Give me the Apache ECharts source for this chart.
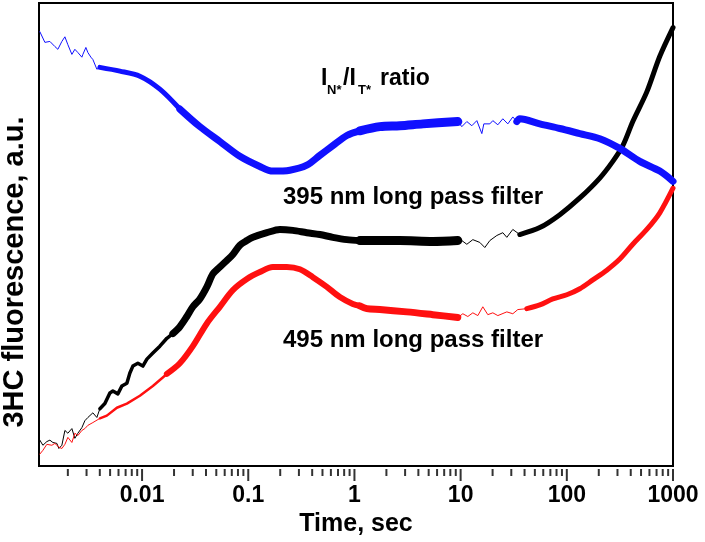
<!DOCTYPE html>
<html>
<head>
<meta charset="utf-8">
<script src="https://cdn.jsdelivr.net/npm/echarts@6/dist/echarts.min.js"></script>
<style>
html,body{margin:0;padding:0;background:#fff;}
#chart{width:705px;height:542px;}
</style>
</head>
<body>
<div id="chart"></div>
<script>
// ---- tick labels / tick positions ----
const xTickValues = [0.01, 0.1, 1, 10, 100, 1000];
const xMin = 0.00107, xMax = 1000;
const minorTickValues = [];
[0.001, 0.01, 0.1, 1, 10, 100].forEach(function (d) {
  for (let m = 2; m <= 9; m++) minorTickValues.push(parseFloat((m * d).toPrecision(3)));
});

// ---- annotation texts ----
const labelBlack = '395 nm long pass filter';
const labelRed = '495 nm long pass filter';
const xName = 'Time, sec';
const yName = '3HC fluorescence, a.u.';

// ---- blue: I_N*/I_T* ratio ----
const blueA = [[0.00109,93.8],[0.001216,91.5],[0.001355,91.7],[0.00151,90.6],[0.001611,90.0],[0.001757,91.7],[0.001876,92.7],[0.002001,91.0],[0.002183,88.9],[0.002329,90.0],[0.002486,89.3],[0.002711,88.3],[0.002771,88.9],[0.002957,90.4],[0.003088,89.3],[0.003296,88.3],[0.003441,87.8],[0.003753,85.7],[0.004006,86.1]];
const blueB = [[0.004006,86.1],[0.00618,85.3],[0.009535,84.2],[0.01471,81.4],[0.02269,77.1]];
const blueC = [[0.02269,77.1],[0.03502,73.3],[0.05402,70.1],[0.08336,66.9],[0.1286,64.7],[0.1704,63.7],[0.2465,63.9],[0.3563,65.0],[0.4724,67.1],[0.626,69.2],[0.8481,71.4],[1.124,72.4]];
const blueD = [[1.124,72.4],[1.735,73.3],[2.677,73.5],[4.407,73.9],[9.41,74.4]];
const blueE = [[9.41,74.4],[10.26,73.3],[11.44,74.4],[12.75,73.5],[14.21,74.6],[15.84,71.8],[16.54,73.9],[18.84,73.9],[20.10,74.6],[22.41,73.7],[24.97,75.0],[27.83,73.9],[31.01,75.4],[33.82,74.4]];
const blueF = [[33.82,74.4],[36.09,75.0],[55.69,73.9],[85.96,72.9],[132.6,71.8],[204.5,70.7],[315.6,68.6],[486.8,65.8],[751.1,63.7],[1000,61.5]];

// ---- black: 395 nm long pass filter ----
const blackA = [[0.00109,5.6],[0.001164,4.5],[0.001269,5.3],[0.001355,5.6],[0.001446,5.1],[0.001577,4.9],[0.001646,3.8],[0.001757,4.5],[0.001876,7.7],[0.002001,7.1],[0.002183,8.1],[0.002329,6.0],[0.002486,7.1],[0.002711,8.3],[0.002893,9.8],[0.003088,10.5],[0.003441,11.5],[0.003753,10.5],[0.004006,12.4]];
const blackB = [[0.004006,12.4],[0.004464,13.5],[0.004976,15.8],[0.005309,16.2],[0.005917,15.6],[0.006454,17.3],[0.007193,17.9],[0.007677,20.1],[0.008193,21.6],[0.00913,22.2],[0.01017,21.6],[0.0111,23.1],[0.01264,24.4],[0.01471,25.9],[0.01712,27.6],[0.0195,28.6]];
const blackC = [[0.0195,28.6],[0.02269,30.1],[0.02642,32.3],[0.03008,34.4],[0.03502,36.1],[0.04075,38.7],[0.04642,41.5],[0.05402,43.0],[0.06288,44.4],[0.07161,45.7],[0.08336,47.7],[0.097,48.7],[0.1105,49.4],[0.1497,50.4],[0.1984,51.1],[0.263,50.9],[0.3563,50.4],[0.4724,50.0],[0.626,49.4],[0.8481,48.9],[1.124,48.7]];
const blackD = [[1.124,48.7],[2.677,48.7],[5.473,48.5],[9.41,48.7]];
const blackE = [[9.41,48.7],[10.26,48.7],[11.44,47.9],[13.03,48.9],[15.16,48.3],[16.90,47.2],[18.84,48.7],[21.93,49.8],[24.97,50.4],[27.23,49.4],[31.01,51.1],[36.09,50.0]];
const blackF = [[36.09,50.0],[55.69,51.5],[85.96,54.3],[132.6,57.9],[204.5,62.2],[271.1,65.8],[336.9,69.2],[418.2,74.4],[566.6,80.8],[751.1,88.5],[1000,94.7]];

// ---- red: 495 nm long pass filter ----
const redA = [[0.00109,2.6],[0.001164,3.4],[0.001269,4.7],[0.001415,4.5],[0.00151,4.9],[0.001646,4.1],[0.001757,3.8],[0.001876,4.7],[0.002001,6.2],[0.002183,5.1],[0.002329,7.1],[0.002486,6.6],[0.002711,7.7],[0.002893,8.1],[0.003088,8.8],[0.003441,9.4],[0.004006,10.3]];
const redB = [[0.004006,10.3],[0.004661,10.9],[0.00579,12.6],[0.007193,13.5],[0.009535,15.2],[0.01264,17.3],[0.01712,19.9]];
const redC = [[0.01712,19.9],[0.02269,22.2],[0.03008,25.9],[0.04075,30.8],[0.05402,34.4],[0.07161,38.0],[0.097,40.4],[0.1286,41.9],[0.1704,43.0],[0.231,43.0],[0.3062,42.5],[0.4058,40.8],[0.5497,38.7],[0.7287,36.5],[0.9658,35.0],[1.124,34.6]];
const redD = [[1.124,34.6],[1.309,34.0],[1.735,33.8],[3.115,33.3],[5.473,32.7],[9.41,32.1]];
const redE = [[9.41,32.1],[10.49,32.9],[11.69,32.3],[13.03,33.1],[14.52,32.5],[16.18,34.4],[18.04,32.7],[20.10,33.1],[22.41,32.5],[27.23,33.3],[31.01,32.9],[34.56,33.8],[42.02,34.0]];
const redF = [[42.02,34.0],[55.69,34.8],[73.83,36.1],[100,37.0],[132.6,38.3],[175.7,40.2],[238.0,42.3],[315.6,44.7],[418.2,47.9],[566.6,51.1],[751.1,54.7],[1000,60.0]];

const BLUE = '#1010ff', BLACK = '#000000', RED = '#ff1010';
const FONT = '"Liberation Sans", Arial, sans-serif';

function seg(data, color, width, smooth) {
  return {
    type: 'line', data: data, showSymbol: false, symbol: 'none',
    smooth: smooth ? 0.3 : false, silent: true,
    lineStyle: { color: color, width: width, cap: 'round', join: 'round' }
  };
}

// tick marks: small rects in a thin strip grid under the plot, sharing the same log x scale
function tickMarks(values, len) {
  return {
    type: 'scatter', xAxisIndex: 1, yAxisIndex: 1, silent: true, clip: false,
    data: values.map(function (v) { return [v, len / 2]; }),
    symbol: 'rect', symbolSize: [2, len],
    itemStyle: { color: '#000' }
  };
}

const series = [
  seg(blackA, BLACK, 1, false), seg(blackB, BLACK, 3.5, false), seg(blackC, BLACK, 7, true),
  seg(blackD, BLACK, 9, true), seg(blackE, BLACK, 1, false), seg(blackF, BLACK, 5, true),
  seg(redA, RED, 1, false), seg(redB, RED, 2.5, false), seg(redC, RED, 6, true),
  seg(redD, RED, 7, true), seg(redE, RED, 1, false), seg(redF, RED, 5, true),
  seg(blueA, BLUE, 1, false), seg(blueB, BLUE, 5, true), seg(blueC, BLUE, 7, true),
  seg(blueD, BLUE, 9, true), seg(blueE, BLUE, 1, false), seg(blueF, BLUE, 7, true),
  tickMarks(xTickValues, 12), tickMarks(minorTickValues, 7)
];

const chart = echarts.init(document.getElementById('chart'), null, { renderer: 'canvas' });
chart.setOption({
  animation: false,
  backgroundColor: '#ffffff',
  grid: [
    { left: 39, right: 32, top: 3, bottom: 71, show: true, borderColor: '#000', borderWidth: 2, backgroundColor: 'transparent' },
    { left: 39, right: 32, top: 469, height: 12, show: false }
  ],
  xAxis: [{
    type: 'log', min: xMin, max: xMax, logBase: 10, gridIndex: 0,
    position: 'bottom',
    name: xName, nameLocation: 'middle', nameGap: 40,
    nameTextStyle: { fontFamily: FONT, fontWeight: 'bold', fontSize: 25, color: '#000' },
    axisLine: { show: true, lineStyle: { color: '#000', width: 2 } },
    axisTick: { show: false }, minorTick: { show: false },
    axisLabel: { show: true, margin: 18, fontFamily: FONT, fontWeight: 'bold', fontSize: 23, color: '#000',
      customValues: xTickValues, formatter: function (v) { return String(v); } },
    splitLine: { show: false }
  }, {
    type: 'log', min: xMin, max: xMax, logBase: 10, gridIndex: 1,
    show: false, axisLine: { show: false }, axisTick: { show: false }, axisLabel: { show: false }, splitLine: { show: false }
  }],
  yAxis: [{
    type: 'value', min: 0, max: 100, gridIndex: 0,
    axisLine: { show: true, lineStyle: { color: '#000', width: 2 } },
    axisTick: { show: false }, axisLabel: { show: false }, splitLine: { show: false }
  }, {
    type: 'value', min: 0, max: 12, inverse: true, gridIndex: 1,
    show: false, axisLine: { show: false }, axisTick: { show: false }, axisLabel: { show: false }, splitLine: { show: false }
  }],
  series: series,
  graphic: [
    { type: 'text', x: 15, y: 272, rotation: Math.PI / 2,
      style: { text: yName, font: 'bold 29px ' + FONT, fill: '#000', align: 'center', verticalAlign: 'middle' } },
    { type: 'text', x: 283, y: 197,
      style: { text: labelBlack, font: 'bold 24px ' + FONT, fill: '#000', align: 'left', verticalAlign: 'middle' } },
    { type: 'text', x: 283, y: 340,
      style: { text: labelRed, font: 'bold 24px ' + FONT, fill: '#000', align: 'left', verticalAlign: 'middle' } },
    { type: 'text', x: 321, y: 79,
      style: { text: 'I', font: 'bold 23px ' + FONT, fill: '#000', align: 'left', verticalAlign: 'middle' } },
    { type: 'text', x: 327, y: 90,
      style: { text: 'N*', font: 'bold 13px ' + FONT, fill: '#000', align: 'left', verticalAlign: 'middle' } },
    { type: 'text', x: 343, y: 79,
      style: { text: '/I', font: 'bold 23px ' + FONT, fill: '#000', align: 'left', verticalAlign: 'middle' } },
    { type: 'text', x: 358, y: 90,
      style: { text: 'T*', font: 'bold 13px ' + FONT, fill: '#000', align: 'left', verticalAlign: 'middle' } },
    { type: 'text', x: 380, y: 79,
      style: { text: 'ratio', font: 'bold 23px ' + FONT, fill: '#000', align: 'left', verticalAlign: 'middle' } }
  ]
});
</script>
</body>
</html>
